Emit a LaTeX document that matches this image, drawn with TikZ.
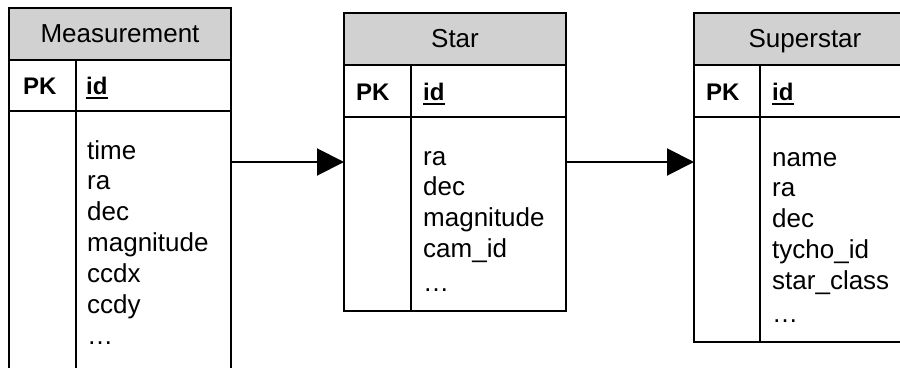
\documentclass[tikz,border=0pt]{standalone}
\usepackage{fontspec}
\setmainfont{Liberation Sans}
\usetikzlibrary{arrows.meta}
\definecolor{headgray}{RGB}{209,209,209}
\begin{document}
\begin{tikzpicture}[x=1pt,y=-1pt,
  rule/.style={draw=black,line width=1.8pt},
  cellbox/.style 2 args={rule,anchor=north west,minimum width=#1,minimum height=#2,inner sep=0pt,outer sep=0pt},
  titletext/.style={font=\fontsize{26}{31}\selectfont,inner sep=0pt,anchor=base},
  keytext/.style={font=\fontsize{24}{28}\bfseries\selectfont,inner sep=0pt,anchor=base west},
  fieldtext/.style={font=\fontsize{26}{31}\selectfont,inner sep=0pt,anchor=base west},
  keyline/.style={line width=1.6pt},
  link/.style={line width=2pt,-{Triangle[length=27pt,width=27pt]}}
]
\useasboundingbox (0,0) rectangle (900,367);
\clip (0,0) rectangle (900,367);

% ---------- Measurement ----------
\node[cellbox={222}{52},fill=headgray] (mhead) at (9,8) {};
\node[cellbox={222}{51}] (mkey) at (9,60) {};
\node[cellbox={222}{280}] (mbody) at (9,111) {};
\draw[rule] ([xshift=67pt]mkey.north west) -- ([xshift=67pt]mbody.south west);
\node[titletext] (mtitle) at (120,42) {Measurement};
\node[keytext] (mpk) at (23,94) {PK};
\node[keytext] (mid) at (86,94) {id};
\draw[keyline] ([yshift=-4pt]mid.base west) -- ([yshift=-4pt]mid.base east);
\foreach \f [count=\i from 0] in {time,ra,dec,magnitude,ccdx,ccdy}
  \node[fieldtext] (mf\i) at (87,{159+30.8*\i}) {\f};
\node[fieldtext] (mdots) at (87,344) {\dots};

% ---------- Star ----------
\node[cellbox={222}{52},fill=headgray] (shead) at (344,13) {};
\node[cellbox={222}{52}] (skey) at (344,65) {};
\node[cellbox={222}{194}] (sbody) at (344,117) {};
\draw[rule] ([xshift=67pt]skey.north west) -- ([xshift=67pt]sbody.south west);
\node[titletext] (stitle) at (455,47) {Star};
\node[keytext] (spk) at (356,100) {PK};
\node[keytext] (sid) at (423,100) {id};
\draw[keyline] ([yshift=-4pt]sid.base west) -- ([yshift=-4pt]sid.base east);
\foreach \f [count=\i from 0] in {ra,dec,magnitude,cam\_id}
  \node[fieldtext] (sf\i) at (423,{165+30.8*\i}) {\f};
\node[fieldtext] (sdots) at (423,291) {\dots};

% ---------- Superstar ----------
\node[cellbox={223}{52},fill=headgray] (uhead) at (694,13) {};
\node[cellbox={223}{52}] (ukey) at (694,65) {};
\node[cellbox={223}{225}] (ubody) at (694,117) {};
\draw[rule] ([xshift=66pt]ukey.north west) -- ([xshift=66pt]ubody.south west);
\node[titletext] (utitle) at (805,47) {Superstar};
\node[keytext] (upk) at (706,100) {PK};
\node[keytext] (uid) at (772,100) {id};
\draw[keyline] ([yshift=-4pt]uid.base west) -- ([yshift=-4pt]uid.base east);
\foreach \f [count=\i from 0] in {name,ra,dec,tycho\_id,star\_class}
  \node[fieldtext] (uf\i) at (772,{166+30.8*\i}) {\f};
\node[fieldtext] (udots) at (772,322) {\dots};

% ---------- relationships ----------
\path (sf0.base) ++(0,-3) coordinate (slink);
\path (uf0.base) ++(0,-4) coordinate (ulink);
\draw[link] (mbody.east |- slink) -- (sbody.west |- slink);
\draw[link] (sbody.east |- ulink) -- (ubody.west |- ulink);
\end{tikzpicture}
\end{document}
